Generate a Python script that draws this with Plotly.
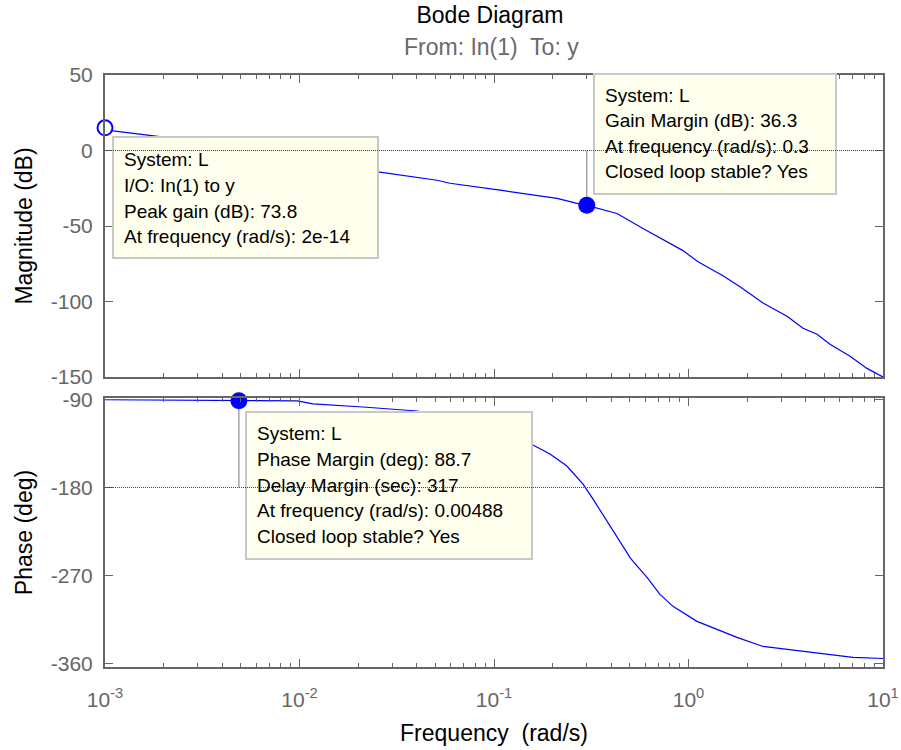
import math
import plotly.graph_objects as go

# ---------------- data ----------------
freq_mag = [0.001, 0.0011, 0.00196, 0.005, 0.01, 0.0259, 0.0509, 0.0594, 0.1074,
            0.2109, 0.2672, 0.3, 0.4289, 0.5834, 0.937, 1.119, 1.504, 1.84, 2.416,
            3.21, 3.88, 4.58, 5.34, 6.77, 8.27, 10.0]
mag_db = [15.0, 13.0, 9.0, 0.5, -5.7, -14.3, -19.7, -21.7, -26.3,
          -31.7, -35.0, -36.3, -41.7, -51.7, -66.3, -73.7, -83.0, -90.3, -101.0,
          -109.7, -117.7, -121.7, -128.3, -136.3, -144.3, -150.0]

freq_ph = [0.001, 0.0039, 0.00488, 0.0097, 0.01173, 0.01755, 0.0212, 0.0402, 0.1,
           0.1585, 0.194, 0.237, 0.287, 0.323, 0.395, 0.5, 0.519, 0.612, 0.713,
           0.832, 1.106, 1.775, 2.415, 4.06, 7.01, 10.0]
phase_deg = [-90.3, -91.0, -91.3, -91.5, -94.6, -96.7, -97.7, -101.8, -118.0,
             -136.6, -145.8, -158.1, -176.6, -191.9, -219.6, -251.4, -255.5, -271.9, -289.3,
             -301.6, -316.9, -333.3, -342.6, -347.7, -353.8, -354.9]

gm_freq = 0.3        # gain margin frequency (rad/s)
gm_db = 36.3         # gain margin (dB)
pm_freq = 0.00488    # phase margin frequency (rad/s)
pm_deg = 88.7        # phase margin (deg)

x_tickvals = [0.001, 0.01, 0.1, 1, 10]
x_ticktext = ["10<sup>-3</sup>", "10<sup>-2</sup>", "10<sup>-1</sup>", "10<sup>0</sup>", "10<sup>1</sup>"]
mag_tickvals = [-150, -100, -50, 0, 50]
mag_ticktext = ["-150", "-100", "-50", "0", "50"]
ph_tickvals = [-360, -270, -180, -90]
ph_ticktext = ["-360", "-270", "-180", "-90"]

tip_peak = ["System: L", "I/O: In(1) to y", "Peak gain (dB): 73.8", "At frequency (rad/s): 2e-14"]
tip_gm = ["System: L", "Gain Margin (dB): 36.3", "At frequency (rad/s): 0.3", "Closed loop stable? Yes"]
tip_pm = ["System: L", "Phase Margin (deg): 88.7", "Delay Margin (sec): 317",
          "At frequency (rad/s): 0.00488", "Closed loop stable? Yes"]

# ---------------- styling ----------------
FONT = "Liberation Sans, Arial, sans-serif"
AX = "#666666"
BLUE = "#0000ff"
W, H = 901, 750
ML, MR, MT, MB = 105, 18, 75, 83
PW, PH = W - ML - MR, H - MT - MB


def px(x):
    return (x - ML) / PW


def py(y):
    return (H - MB - y) / PH


fig = go.Figure()

# curves
fig.add_trace(go.Scatter(x=freq_mag, y=mag_db, mode="lines", line=dict(color=BLUE, width=1.2),
                         xaxis="x", yaxis="y", hoverinfo="skip"))
fig.add_trace(go.Scatter(x=freq_ph, y=phase_deg, mode="lines", line=dict(color=BLUE, width=1.2),
                         xaxis="x2", yaxis="y2", hoverinfo="skip"))
# stems from margin markers to the reference lines
fig.add_trace(go.Scatter(x=[gm_freq, gm_freq], y=[-gm_db, 0], mode="lines",
                         line=dict(color="#777777", width=1), xaxis="x", yaxis="y", hoverinfo="skip"))
fig.add_trace(go.Scatter(x=[pm_freq, pm_freq], y=[-180 + pm_deg, -180], mode="lines",
                         line=dict(color="#777777", width=1), xaxis="x2", yaxis="y2", hoverinfo="skip"))
# markers
fig.add_trace(go.Scatter(x=[freq_mag[0]], y=[mag_db[0]], mode="markers", cliponaxis=False,
                         marker=dict(size=15, color="white", line=dict(color=BLUE, width=2)),
                         xaxis="x", yaxis="y", hoverinfo="skip"))
fig.add_trace(go.Scatter(x=[gm_freq], y=[-gm_db], mode="markers", cliponaxis=False,
                         marker=dict(size=17, color=BLUE), xaxis="x", yaxis="y", hoverinfo="skip"))
fig.add_trace(go.Scatter(x=[pm_freq], y=[-180 + pm_deg], mode="markers", cliponaxis=False,
                         marker=dict(size=17, color=BLUE), xaxis="x2", yaxis="y2", hoverinfo="skip"))

shapes = []
annotations = []


def tip(lines, x0, y0, x1, y1, tx, ty0, dy=25.6):
    shapes.append(dict(type="rect", xref="paper", yref="paper", x0=px(x0), x1=px(x1),
                       y0=py(y1), y1=py(y0), fillcolor="#ffffee",
                       line=dict(color="#c8c8c8", width=2), layer="above"))
    for i, t in enumerate(lines):
        annotations.append(dict(text=t, xref="paper", yref="paper", x=px(tx), y=py(ty0 + i * dy),
                                xanchor="left", yanchor="middle", showarrow=False,
                                font=dict(family=FONT, size=19, color="black")))


tip(tip_peak, 113, 137, 378, 258, 122, 160)
tip(tip_gm, 594, 74, 836, 194, 603, 95)
tip(tip_pm, 246, 412, 532, 559, 255, 434)

# dotted reference lines (0 dB and -180 deg), drawn above the tips
shapes.append(dict(type="line", xref="paper", yref="y", x0=0, x1=1, y0=0, y1=0,
                   line=dict(color="#444444", width=1, dash="1px,1px"), layer="above"))
shapes.append(dict(type="line", xref="paper", yref="y2", x0=0, x1=1, y0=-180, y1=-180,
                   line=dict(color="#444444", width=1, dash="1px,1px"), layer="above"))

annotations.append(dict(text="From: In(1)\u00a0 To: y", xref="paper", yref="paper",
                        x=px(491), y=py(47), xanchor="center", yanchor="middle", showarrow=False,
                        font=dict(family=FONT, size=23, color="#6a6a6a")))

xcommon = dict(type="log", range=[-3, 1], tickvals=x_tickvals, ticks="inside", ticklen=8,
               tickwidth=1, tickcolor=AX, mirror="ticks", showline=True, linecolor=AX, linewidth=2,
               showgrid=False, zeroline=False, automargin=False,
               minor=dict(dtick="D1", ticks="inside", ticklen=4, tickwidth=1, tickcolor=AX,
                          showgrid=False))
ycommon = dict(ticks="inside", ticklen=8, tickwidth=1, tickcolor=AX, mirror="ticks", showline=True,
               linecolor=AX, linewidth=2, showgrid=False, zeroline=False, automargin=False,
               tickfont=dict(family=FONT, size=21, color=AX), ticklabelstandoff=6)

fig.update_layout(
    width=W, height=H, autosize=False,
    margin=dict(l=ML, r=MR, t=MT, b=MB),
    paper_bgcolor="white", plot_bgcolor="white",
    showlegend=False,
    font=dict(family=FONT, color="black"),
    title=dict(text="Bode Diagram", x=490 / W, xref="container", xanchor="center",
               y=1 - 15 / H, yref="container", yanchor="middle",
               font=dict(family=FONT, size=23, color="black")),
    xaxis=dict(anchor="y", domain=[0, 1], showticklabels=False, **xcommon),
    xaxis2=dict(anchor="y2", domain=[0, 1], matches="x", ticktext=x_ticktext,
                tickfont=dict(family=FONT, size=21, color=AX), ticklabelstandoff=13,
                title=dict(text="Frequency\u00a0 (rad/s)", font=dict(family=FONT, size=23, color="black"),
                           standoff=15),
                **xcommon),
    yaxis=dict(anchor="x", domain=[py(377), 1], range=[-150, 50], tickvals=mag_tickvals,
               ticktext=mag_ticktext,
               title=dict(text="Magnitude (dB)", font=dict(family=FONT, size=23, color="black"), standoff=12),
               **ycommon),
    yaxis2=dict(anchor="x2", domain=[0, py(398)], range=[-363.6, -88.5], tickvals=ph_tickvals,
                ticktext=ph_ticktext,
                title=dict(text="Phase (deg)", font=dict(family=FONT, size=23, color="black"), standoff=12),
                **ycommon),
    shapes=shapes,
    annotations=annotations,
)

fig.write_html("out.html")
